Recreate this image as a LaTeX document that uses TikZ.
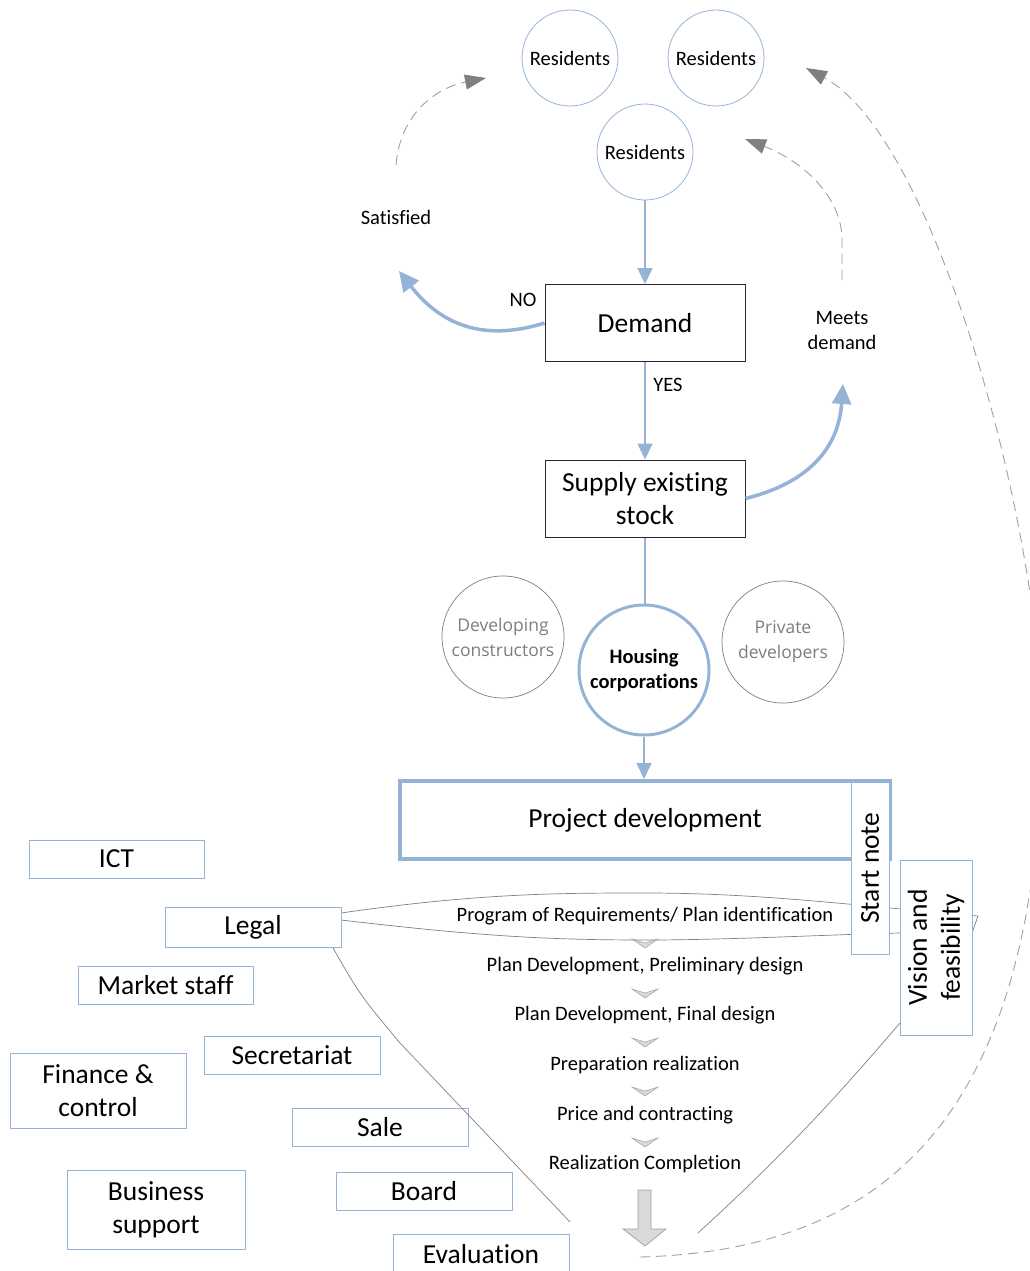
\documentclass[tikz,border=0pt]{standalone}
\usepackage{fontspec}
\setmainfont{Carlito}[RawFeature={-liga;-clig;-calt;-rlig;-dlig}]
\newfontfamily\osans{Open Sans}
\usetikzlibrary{arrows.meta}
\definecolor{lblue}{RGB}{149,179,215}
\definecolor{dgray}{RGB}{128,128,128}
\definecolor{lgray}{RGB}{160,160,160}
\definecolor{cgray}{RGB}{125,125,125}
\definecolor{agray}{RGB}{217,217,217}
\begin{document}
\begin{tikzpicture}[x=1pt,y=-1pt,
  every node/.style={inner sep=0pt, align=center},
  big/.style={font=\fontsize{27.5}{33}\selectfont},
  small/.style={font=\fontsize{20.5}{25}\selectfont},
  res/.style={circle, draw=lblue, line width=0.8pt, minimum size=96pt, small},
  blackbox/.style={draw=black!85, line width=1pt, big, minimum width=200pt, minimum height=77pt},
  lbox/.style={draw=lblue, line width=1pt, fill=white, big},
  gcirc/.style={circle, draw=cgray, line width=0.7pt, minimum size=122pt, text=cgray, font=\osans\fontsize{17.5}{25}\selectfont},
  bluearrow/.style={draw=lblue, line width=1.6pt, -{Triangle[length=16pt,width=15pt]}},
  blueline/.style={draw=lblue, line width=1.6pt},
  thickblue/.style={draw=lblue, line width=3.5pt, -{Triangle[length=20pt,width=19pt]}},
  dasharrow/.style={draw=lgray, line width=0.9pt, dash pattern=on 10pt off 6pt, -{Triangle[length=21pt,width=15pt,color=dgray]}},
  gline/.style={draw=dgray, line width=0.7pt},
  chev/.style={fill=agray, draw=lgray, line width=0.5pt}
]
\useasboundingbox (0,0) rectangle (1030,1271);
\clip (0,0) rectangle (1030,1271);

% residents
\node[res] (r1) at (570,58) {Residents};
\node[res] (r2) at (716,58) {Residents};
\node[res] (r3) at (645,152) {Residents};

% main boxes
\node[blackbox] (demand) at (645,323) {Demand};
\node[blackbox] (supply) at (645,498.5) {Supply existing\\stock};

% labels
\node[small] (no) at (523,300) {NO};
\node[small] (yes) at (668,385) {YES};
\node[small] (sat) at (396,217) {Satisfied};
\node[small] (meets) at (842,330) {Meets\\demand};

% organisations
\node[gcirc] (devc) at (503,637) {Developing\\constructors};
\node[gcirc] (priv) at (783,642) {Private\\developers};
\node[circle, draw=lblue, line width=3pt, minimum size=130pt,
      font=\bfseries\fontsize{20.5}{25}\selectfont] (hc) at (644,670) {Housing\\corporations};

% lens of project phases
\draw[gline] (341,913) .. controls (480,893) and (560,893) .. (645,893)
  .. controls (760,893) and (850,905) .. (978,916) -- (972,933)
  .. controls (900,930) and (760,940) .. (645,940)
  .. controls (540,940) and (470,935) .. (341,920);

% project development and side notes
\node[draw=lblue, line width=4pt, minimum width=490pt, minimum height=78pt, big] (pd) at (645,820) {Project development};
\node[lbox, rotate=90, minimum width=172pt, minimum height=38pt] (sn) at (870,868) {Start note};
\node[lbox, rotate=90, minimum width=175pt, minimum height=72pt] (vf) at (936,947.5) {Vision and\\feasibility};

% departments
\node[lbox, minimum width=175pt, minimum height=38pt] (ict) at (116.5,859) {ICT};
\node[lbox, minimum width=176pt, minimum height=40pt] (legal) at (253,927) {Legal};
\node[lbox, minimum width=175pt, minimum height=38pt] (market) at (165.5,985) {Market staff};
\node[lbox, minimum width=176pt, minimum height=38pt] (secr) at (292,1055) {Secretariat};
\node[lbox, minimum width=176pt, minimum height=75pt] (fin) at (98,1090.5) {Finance \&\\control};
\node[lbox, minimum width=176pt, minimum height=38pt] (sale) at (380,1127) {Sale};
\node[lbox, minimum width=178pt, minimum height=79pt] (bus) at (156,1209.5) {Business\\support};
\node[lbox, minimum width=176pt, minimum height=38pt] (board) at (424,1191) {Board};
\node[lbox, minimum width=176pt, minimum height=40pt] (eval) at (481,1254) {Evaluation};

% phases
\node[small] (s1) at (645,916) {Program of Requirements/ Plan identification};
\node[small] (s2) at (645,966) {Plan Development, Preliminary design};
\node[small] (s3) at (645,1015) {Plan Development, Final design};
\node[small] (s4) at (645,1065) {Preparation realization};
\node[small] (s5) at (645,1115) {Price and contracting};
\node[small] (s6) at (645,1164) {Realization Completion};

\foreach \y in {939,989,1038,1087,1138} {
  \draw[chev] (632,\y) -- (645,\y+4) -- (658,\y) -- (645,\y+9) -- cycle;
}
\draw[fill=agray, draw=lgray, line width=0.7pt] (638,1190) -- (651,1190) -- (651,1229) -- (666,1229) -- (645,1246) -- (623,1229) -- (638,1229) -- cycle;

% connectors
\draw[bluearrow] (r3) -- (demand);
\draw[bluearrow] (demand) -- (supply);
\draw[blueline] (supply.south) -- (supply.south |- hc.north);
\draw[bluearrow] (hc.south) -- (hc.south |- pd.north);
\draw[thickblue] (demand.west) .. controls (490,340) and (445,330) .. (399,271);
\draw[thickblue] (supply.east) .. controls (800,485) and (838,455) .. (843,384);

\coordinate (satTop) at (396,165);
\coordinate (mdTop) at (842,280);
\coordinate (evalEnd) at (640,1257);
\draw[dasharrow] (satTop) .. controls (400,115) and (435,88) .. (486,78);
\draw[dasharrow] (mdTop) -- (842,240) .. controls (842,195) and (800,160) .. (745,139);
\draw[dasharrow] (evalEnd) .. controls (900,1250) and (1030,1100) .. (1042,760)
  .. controls (1050,560) and (940,140) .. (806,68);

\coordinate (legalOut) at (333,948);
\coordinate (legalEnd) at (570,1222);
\coordinate (vfOut) at (900,1023);
\coordinate (vfEnd) at (698,1233);
\draw[gline] (legalOut) .. controls (360,995) .. (400,1043) -- (legalEnd);
\draw[gline] (vfOut) .. controls (855,1075) and (800,1140) .. (vfEnd);
\end{tikzpicture}
\end{document}
